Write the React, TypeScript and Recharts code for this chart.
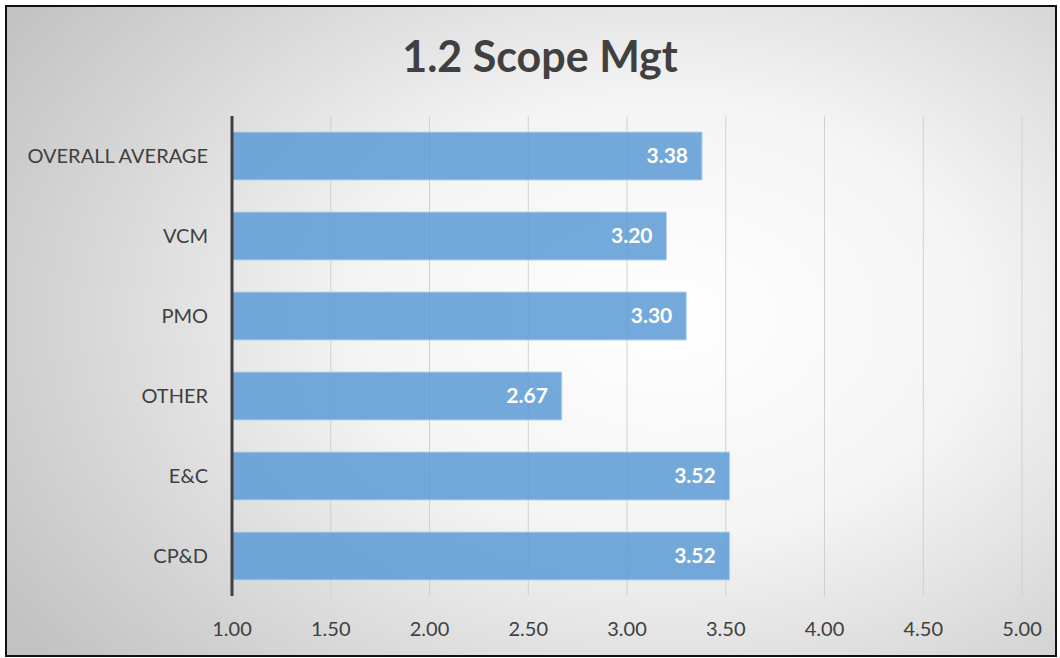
import { BarChart, Bar, XAxis, YAxis, CartesianGrid, LabelList } from "recharts";

const categories = ["OVERALL AVERAGE", "VCM", "PMO", "OTHER", "E&C", "CP&D"];
const scores = [3.38, 3.2, 3.3, 2.67, 3.52, 3.52];
const xTicks = [1, 1.5, 2, 2.5, 3, 3.5, 4, 4.5, 5];

const data = categories.map((name, i) => ({ name, score: scores[i] }));

const font = "Lato, 'Open Sans', sans-serif";

export default function App() {
  return (
    <div style={{ position: "absolute", left: 0, top: 0, width: 1060, height: 658 }}>
      <div
        style={{
          position: "absolute",
          left: 5,
          top: 5,
          width: 1052,
          height: 652,
          boxSizing: "border-box",
          border: "2px solid #111",
          background: "radial-gradient(ellipse 75% 85% at 63% 48%, #ffffff 0%, #f4f4f4 40%, #d6d6d6 75%, #c2c2c2 100%)",
        }}
      />
      <div
        style={{
          position: "absolute",
          left: 0,
          top: 30,
          width: 1080,
          textAlign: "center",
          fontFamily: font,
          fontWeight: 700,
          fontSize: 43,
          color: "#404040",
        }}
      >
        1.2 Scope Mgt
      </div>
      <div style={{ position: "absolute", left: 0, top: 0 }}>
        <BarChart
          width={1060}
          height={658}
          data={data}
          layout="vertical"
          margin={{ top: 116, right: 38, bottom: 0, left: 0 }}
          barCategoryGap="20%"
        >
          <CartesianGrid horizontal={false} stroke="#d0d0d0" />
          <XAxis
            type="number"
            domain={[1, 5]}
            ticks={xTicks}
            tickFormatter={(v: number) => v.toFixed(2)}
            axisLine={false}
            tickLine={false}
            tickMargin={20}
            height={62}
            tick={{ fill: "#404040", fontSize: 20, fontFamily: font }}
          />
          <YAxis
            type="category"
            dataKey="name"
            width={232}
            axisLine={{ stroke: "#404040", strokeWidth: 3 }}
            tickLine={false}
            tickMargin={18}
            tick={{ fill: "#404040", fontSize: 20, fontFamily: font }}
          />
          <Bar dataKey="score" fill="#5b9bd5" fillOpacity={0.85} stroke="#b8d3ee" strokeWidth={1} isAnimationActive={false}>
            <LabelList
              dataKey="score"
              position="insideRight"
              offset={14}
              formatter={(v: number) => Number(v).toFixed(2)}
              style={{ fill: "#ffffff", fontSize: 21, fontWeight: 700, fontFamily: font }}
            />
          </Bar>
        </BarChart>
      </div>
    </div>
  );
}
